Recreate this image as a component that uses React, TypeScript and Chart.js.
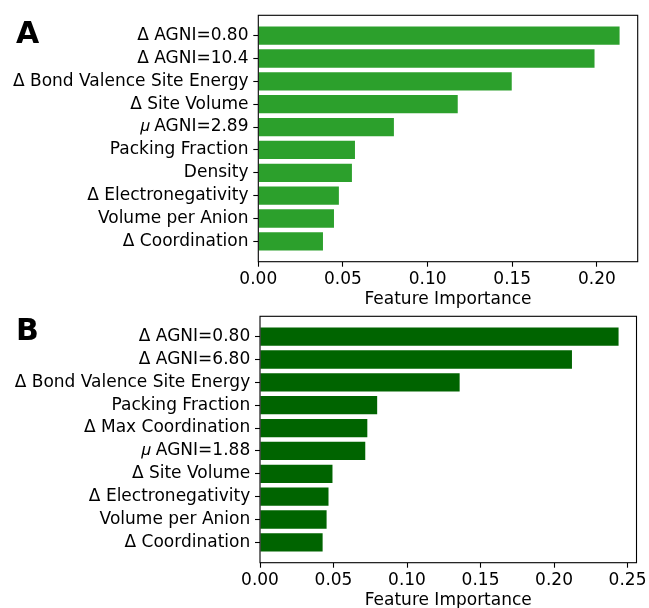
import React, { useEffect, useRef } from "react";
import { Chart, registerables } from "chart.js";

Chart.register(...registerables);

// ---- Data ----
const labelsA = [
  "Δ AGNI=0.80",
  "Δ AGNI=10.4",
  "Δ Bond Valence Site Energy",
  "Δ Site Volume",
  "𝜇 AGNI=2.89",
  "Packing Fraction",
  "Density",
  "Δ Electronegativity",
  "Volume per Anion",
  "Δ Coordination",
];
const valuesA = [0.2134, 0.1986, 0.1497, 0.1178, 0.0801, 0.0571, 0.0553, 0.0476, 0.0447, 0.0382];

const labelsB = [
  "Δ AGNI=0.80",
  "Δ AGNI=6.80",
  "Δ Bond Valence Site Energy",
  "Packing Fraction",
  "Δ Max Coordination",
  "𝜇 AGNI=1.88",
  "Δ Site Volume",
  "Δ Electronegativity",
  "Volume per Anion",
  "Δ Coordination",
];
const valuesB = [0.2439, 0.2122, 0.1358, 0.0797, 0.073, 0.0716, 0.0493, 0.0466, 0.0453, 0.0426];

const xTicksA = [0, 0.05, 0.1, 0.15, 0.2];
const xTicksB = [0, 0.05, 0.1, 0.15, 0.2, 0.25];
const xMaxA = 0.2241;
const xMaxB = 0.2561;
const xTitle = "Feature Importance";

const FONT = "'DejaVu Sans', 'Liberation Sans', sans-serif";
const CANVAS_W = 649;
const CANVAS_H = 320;

const framePlugin = {
  id: "frame",
  afterDatasetsDraw(chart: any) {
    const { ctx, chartArea } = chart;
    const { left, top, right, bottom } = chartArea;
    ctx.save();
    ctx.strokeStyle = "#000";
    ctx.lineWidth = 1.1;
    ctx.strokeRect(left, top, right - left, bottom - top);
    ctx.restore();
  },
};

type PanelProps = {
  labels: string[];
  values: number[];
  color: string;
  xTicks: number[];
  xMax: number;
  plotLeft: number;
  plotRight: number;
  plotTop: number;
  plotBottom: number;
};

function Panel(props: PanelProps) {
  const ref = useRef<HTMLCanvasElement | null>(null);
  useEffect(() => {
    const { labels, values, color, xTicks, xMax, plotLeft, plotRight, plotTop, plotBottom } = props;
    const font = { family: FONT, size: 17 };
    const chart = new Chart(ref.current as HTMLCanvasElement, {
      type: "bar",
      data: {
        datasets: [
          {
            data: values.map((v, i) => ({ x: v, y: i })) as any,
            backgroundColor: color,
            borderWidth: 0,
            barPercentage: 0.8,
            categoryPercentage: 1,
          },
        ],
      },
      options: {
        indexAxis: "y",
        responsive: false,
        animation: false,
        layout: { padding: { left: 0, top: plotTop, right: CANVAS_W - plotRight, bottom: 0 } },
        plugins: { legend: { display: false }, tooltip: { enabled: false } },
        scales: {
          x: {
            type: "linear",
            min: 0,
            max: xMax,
            offset: false,
            afterBuildTicks: (s: any) => {
              s.ticks = xTicks.map((v) => ({ value: v }));
            },
            afterFit: (s: any) => {
              s.height = CANVAS_H - plotBottom;
            },
            grid: { offset: false, drawOnChartArea: false, drawTicks: true, tickLength: 5, tickColor: "#000", tickWidth: 1.1 },
            border: { display: false },
            ticks: {
              color: "#000",
              font,
              padding: 2.3,
              autoSkip: false,
              maxRotation: 0,
              callback: (v: any) => Number(v).toFixed(2),
            },
            title: { display: true, text: xTitle, color: "#000", font, padding: { top: 0, bottom: 10.5 } },
          },
          y: {
            type: "linear",
            reverse: true,
            min: -0.89,
            max: 9.89,
            offset: false,
            bounds: "data",
            afterBuildTicks: (s: any) => {
              s.ticks = labels.map((_, i) => ({ value: i }));
            },
            afterFit: (s: any) => {
              s.width = plotLeft;
            },
            grid: { offset: false, drawOnChartArea: false, drawTicks: true, tickLength: 5, tickColor: "#000", tickWidth: 1.1 },
            border: { display: false },
            ticks: {
              color: "#000",
              font,
              padding: 4.8,
              autoSkip: false,
              callback: (v: any) => labels[Math.round(Number(v))] ?? "",
            },
          },
        },
      } as any,
      plugins: [framePlugin],
    });
    return () => chart.destroy();
  }, []);
  return <canvas ref={ref} width={CANVAS_W} height={CANVAS_H} style={{ display: "block", width: CANVAS_W, height: CANVAS_H }} />;
}

export default function App() {
  const letterStyle: React.CSSProperties = {
    position: "absolute",
    left: 16,
    fontFamily: FONT,
    fontWeight: "bold",
    fontSize: 30,
    lineHeight: "30px",
    color: "#000",
  };
  return (
    <div
      style={{
        position: "absolute",
        left: 0,
        top: 0,
        width: 649,
        height: 608,
        overflow: "hidden",
        background: "#fff",
      }}
    >
      <div style={{ position: "absolute", left: 0, top: 0 }}>
        <Panel
          labels={labelsA}
          values={valuesA}
          color="#2ca02c"
          xTicks={xTicksA}
          xMax={xMaxA}
          plotLeft={258.3}
          plotRight={637.7}
          plotTop={15.3}
          plotBottom={261.7}
        />
      </div>
      <div style={{ position: "absolute", left: 0, top: 301 }}>
        <Panel
          labels={labelsB}
          values={valuesB}
          color="#006400"
          xTicks={xTicksB}
          xMax={xMaxB}
          plotLeft={260}
          plotRight={639}
          plotTop={15.3}
          plotBottom={261.7}
        />
      </div>
      <div style={{ ...letterStyle, top: 17.9 }}>A</div>
      <div style={{ ...letterStyle, top: 314.6 }}>B</div>
    </div>
  );
}
